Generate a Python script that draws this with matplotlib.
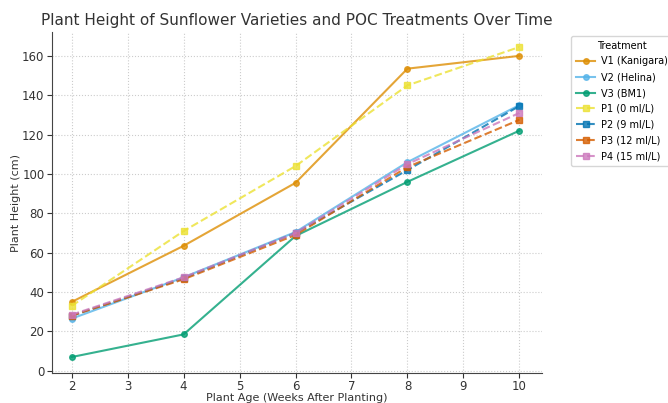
import matplotlib
matplotlib.use("Agg")
import matplotlib.pyplot as plt

weeks = [2, 4, 6, 8, 10]

v1_kanigara = [35, 63.5, 95.5, 153.5, 160]
v2_helina = [26.5, 47.5, 70.5, 106, 135]
v3_bm1 = [7, 18.5, 68.5, 96, 122]
p1_0 = [33, 71, 104, 145, 164.5]
p2_9 = [28, 47, 70, 102, 134.5]
p3_12 = [28, 46.5, 69, 103.5, 127.5]
p4_15 = [28.5, 47.5, 70, 105, 131]

series = [
    ("V1 (Kanigara)", v1_kanigara, "#DE8F05", "-", "o"),
    ("V2 (Helina)", v2_helina, "#56B4E9", "-", "o"),
    ("V3 (BM1)", v3_bm1, "#029E73", "-", "o"),
    ("P1 (0 ml/L)", p1_0, "#ECE133", "--", "s"),
    ("P2 (9 ml/L)", p2_9, "#0173B2", "--", "s"),
    ("P3 (12 ml/L)", p3_12, "#D55E00", "--", "s"),
    ("P4 (15 ml/L)", p4_15, "#CC78BC", "--", "s"),
]

fig = plt.figure(figsize=(6.68, 4.03), dpi=100)
ax = fig.add_axes([0.078, 0.075, 0.733, 0.845])

for label, vals, color, ls, mk in series:
    ax.plot(weeks, vals, color=color, linestyle=ls, marker=mk, markersize=4,
            linewidth=1.5, alpha=0.8, label=label)

ax.set_xlim(1.65, 10.4)
ax.set_ylim(-1, 172)
ax.set_yticks(range(0, 161, 20))
ax.set_xticks(range(2, 11))
ax.grid(True, linestyle=":", color="#cccccc", linewidth=0.8)
for s in ["top", "right"]:
    ax.spines[s].set_visible(False)
for s in ["left", "bottom"]:
    ax.spines[s].set_color("#444444")
ax.tick_params(labelsize=8.5, colors="#333333", pad=2)

ax.set_title("Plant Height of Sunflower Varieties and POC Treatments Over Time",
             fontsize=11, color="#333333", pad=5)
ax.set_xlabel("Plant Age (Weeks After Planting)", fontsize=8, color="#333333",
              labelpad=0)
ax.set_ylabel("Plant Height (cm)", fontsize=8, color="#333333", labelpad=1)

leg = ax.legend(title="Treatment", loc="upper left", bbox_to_anchor=(1.06, 0.99),
                borderaxespad=0, fontsize=7, title_fontsize=7, frameon=True,
                borderpad=0.5, labelspacing=0.6, handletextpad=0.6)
leg.get_frame().set_edgecolor("#cccccc")

fig.savefig("out.png", dpi=100, facecolor="white")
